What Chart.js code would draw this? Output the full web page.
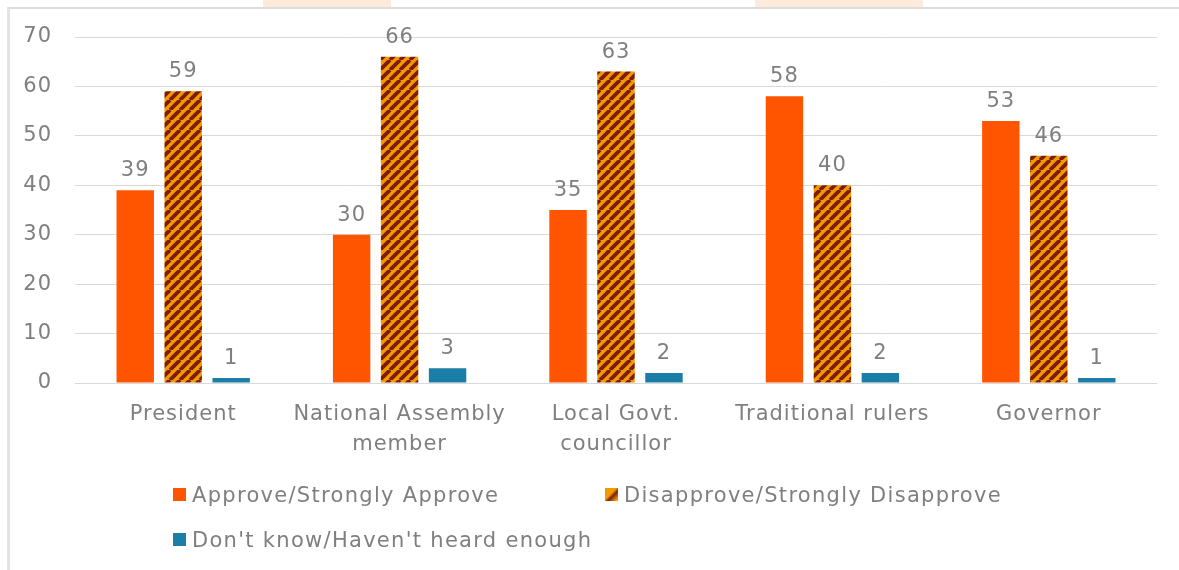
<!DOCTYPE html>
<html>
<head>
<meta charset="utf-8">
<script src="https://cdn.jsdelivr.net/npm/chart.js@4.4.1/dist/chart.umd.min.js"></script>
<style>
    html, body { margin: 0; padding: 0; background: #ffffff; }
    #wrap { position: relative; width: 1179px; height: 570px; overflow: hidden; }
    .blob { position: absolute; top: 0; height: 7px; background: #fdeadb; }
    #frame { position: absolute; left: 7px; top: 7px; right: -10px; bottom: -10px;
             border-top: 2px solid #dcdcdc; border-left: 3px solid #e4e4e4; }
    #chartBox { position: absolute; left: 0; top: 0; width: 1179px; height: 570px; }
    #legend { position: absolute; left: 173px; top: 481px; width: 900px;
              font-family: "DejaVu Sans", sans-serif; font-size: 21px; letter-spacing: 1.3px; color: #7f7f7f; }
    .item { position: absolute; white-space: nowrap; line-height: 28px; }
    .swatch { display: inline-block; width: 13px; height: 13px; margin-right: 6px; vertical-align: 1px; }
</style>
</head>
<body>
<div id="wrap">
    <div class="blob" style="left:263px;width:128px"></div>
    <div class="blob" style="left:755px;width:168px"></div>
    <div id="frame"></div>
    <div id="chartBox"><canvas id="approvalChart" width="1179" height="570"></canvas></div>
    <div id="legend"></div>
</div>
<script>
// --- chart data ---
const categories = [
    "President",
    ["National Assembly", "member"],
    ["Local Govt.", "councillor"],
    "Traditional rulers",
    "Governor"
];
const approveValues = [39, 30, 35, 58, 53];
const disapproveValues = [59, 66, 63, 40, 46];
const dontKnowValues = [1, 3, 2, 2, 1];
const seriesNames = [
    "Approve/Strongly Approve",
    "Disapprove/Strongly Disapprove",
    "Don't know/Haven't heard enough"
];
const yTicks = [0, 10, 20, 30, 40, 50, 60, 70];

const FONT = "DejaVu Sans";
const TEXT_GREY = "#7f7f7f";

// orange with dark diagonal stripes, like the Excel pattern fill
function makeHatch(ctx) {
    const size = 10;
    const c = document.createElement("canvas");
    c.width = size; c.height = size;
    const g = c.getContext("2d");
    g.fillStyle = "#f29a00";
    g.fillRect(0, 0, size, size);
    g.strokeStyle = "#7d1d05";
    g.lineWidth = 3.8;
    g.beginPath();
    for (let k = -1; k <= 1; k++) {
        g.moveTo(k * size, size);
        g.lineTo(k * size + size, 0);
    }
    g.stroke();
    return ctx.createPattern(c, "repeat");
}

const canvas = document.getElementById("approvalChart");
const ctx = canvas.getContext("2d");

// Century Gothic is wider than DejaVu, open the text up a little
// (set on every draw, resizing the canvas resets the context state)
const wideText = {
    id: "wideText",
    beforeDraw(chart) { chart.ctx.letterSpacing = "1px"; }
};

// value labels above each bar
const valueLabels = {
    id: "valueLabels",
    afterDatasetsDraw(chart) {
        const c = chart.ctx;
        c.save();
        c.font = "21px '" + FONT + "'";
        c.fillStyle = TEXT_GREY;
        c.textAlign = "center";
        c.textBaseline = "alphabetic";
        chart.data.datasets.forEach((ds, i) => {
            chart.getDatasetMeta(i).data.forEach((bar, j) => {
                c.fillText(String(ds.data[j]), bar.x, bar.y - 14);
            });
        });
        c.restore();
    }
};

const chart = new Chart(ctx, {
    type: "bar",
    data: {
        labels: categories,
        datasets: [
            { label: seriesNames[0], data: approveValues, backgroundColor: "#ff5500" },
            { label: seriesNames[1], data: disapproveValues, backgroundColor: makeHatch(ctx) },
            { label: seriesNames[2], data: dontKnowValues, backgroundColor: "#1b7ea6" }
        ]
    },
    options: {
        responsive: false,
        animation: false,
        devicePixelRatio: 1,
        layout: { padding: { top: 37, right: 22, bottom: 0, left: 0 } },
        datasets: {
            bar: { categoryPercentage: 0.665, barPercentage: 0.78, borderWidth: 0 }
        },
        plugins: {
            legend: { display: false },
            tooltip: { enabled: false }
        },
        scales: {
            x: {
                grid: { display: false },
                border: { display: false },
                ticks: {
                    color: TEXT_GREY,
                    padding: 9,
                    maxRotation: 0,
                    autoSkip: false,
                    font: { family: FONT, size: 21, lineHeight: 1.43 }
                },
                afterFit: (scale) => { scale.height = 187; }
            },
            y: {
                min: 0,
                max: 70,
                afterBuildTicks: (scale) => { scale.ticks = yTicks.map(v => ({ value: v })); },
                grid: { color: "#d9d9d9", lineWidth: 1, drawTicks: false },
                border: { display: false },
                ticks: {
                    color: TEXT_GREY,
                    padding: 23,
                    font: { family: FONT, size: 21 }
                },
                afterFit: (scale) => { scale.width = 75; }
            }
        }
    },
    plugins: [wideText, valueLabels]
});

// legend laid out in two rows like the original
const legendPos = [[0, 0], [432, 0], [0, 45]];
const swatchCss = [
    "background:#ff5500",
    "background:linear-gradient(135deg,#f29a00 0 45%,#7d1d05 60%,#f29a00 90%)",
    "background:#1b7ea6"
];
const legendEl = document.getElementById("legend");
seriesNames.forEach((name, i) => {
    const d = document.createElement("div");
    d.className = "item";
    d.style.left = legendPos[i][0] + "px";
    d.style.top = legendPos[i][1] + "px";
    d.innerHTML = '<span class="swatch" style="' + swatchCss[i] + '"></span>';
    d.appendChild(document.createTextNode(name));
    legendEl.appendChild(d);
});
</script>
</body>
</html>
